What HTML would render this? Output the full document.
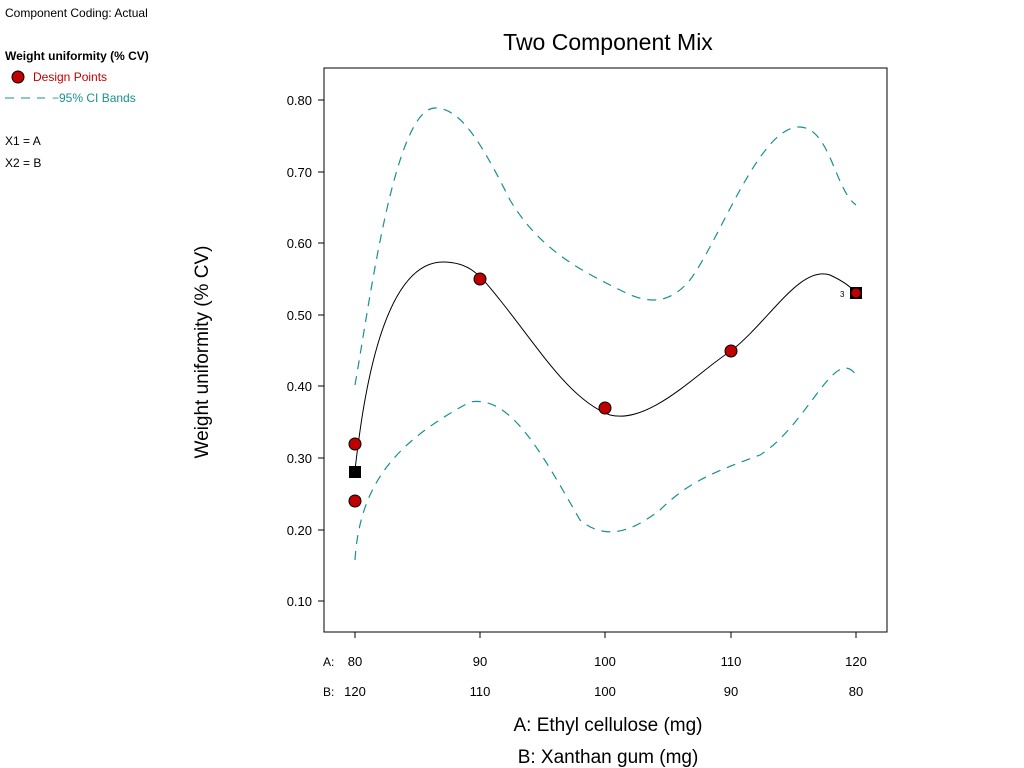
<!DOCTYPE html>
<html><head><style>body{margin:0;background:#fff}svg{display:block}text{font-family:"Liberation Sans","DejaVu Sans",sans-serif}</style></head><body>
<svg width="1024" height="768" viewBox="0 0 1024 768">
<text x="5" y="17" font-size="12">Component Coding: Actual</text>
<text x="5" y="60" font-size="12" font-weight="bold">Weight uniformity (% CV)</text>
<circle cx="18" cy="77" r="6" fill="#c00000" stroke="#000"/>
<text x="33" y="81" font-size="12" fill="#c00000">Design Points</text>
<line x1="5" y1="98" x2="45" y2="98" stroke="#1a9090" stroke-dasharray="9,7"/>
<text x="52" y="102" font-size="12" fill="#1a9090">−95% CI Bands</text>
<text x="5" y="145" font-size="12">X1 = A</text>
<text x="5" y="167" font-size="12">X2 = B</text>
<text x="608" y="50" font-size="23" text-anchor="middle">Two Component Mix</text>
<rect x="324" y="68" width="563" height="564" fill="none" stroke="#000"/>
<g stroke="#000">
<line x1="318" y1="100" x2="324" y2="100"/><line x1="318" y1="172" x2="324" y2="172"/><line x1="318" y1="243" x2="324" y2="243"/><line x1="318" y1="315" x2="324" y2="315"/><line x1="318" y1="386" x2="324" y2="386"/><line x1="318" y1="458" x2="324" y2="458"/><line x1="318" y1="530" x2="324" y2="530"/><line x1="318" y1="601" x2="324" y2="601"/>
<line x1="355" y1="632" x2="355" y2="638"/><line x1="480" y1="632" x2="480" y2="638"/><line x1="605" y1="632" x2="605" y2="638"/><line x1="731" y1="632" x2="731" y2="638"/><line x1="856" y1="632" x2="856" y2="638"/>
</g>
<g font-size="13" text-anchor="end">
<text x="312" y="105">0.80</text><text x="312" y="177">0.70</text><text x="312" y="248">0.60</text><text x="312" y="320">0.50</text><text x="312" y="391">0.40</text><text x="312" y="463">0.30</text><text x="312" y="535">0.20</text><text x="312" y="606">0.10</text>
</g>
<g font-size="13" text-anchor="middle">
<text x="355" y="666">80</text><text x="480" y="666">90</text><text x="605" y="666">100</text><text x="731" y="666">110</text><text x="856" y="666">120</text>
<text x="355" y="696">120</text><text x="480" y="696">110</text><text x="605" y="696">100</text><text x="731" y="696">90</text><text x="856" y="696">80</text>
</g>
<text x="323" y="666" font-size="12">A:</text><text x="323" y="696" font-size="12">B:</text>
<text x="608" y="731" font-size="19" text-anchor="middle">A: Ethyl cellulose (mg)</text>
<text x="608" y="763" font-size="19" text-anchor="middle">B: Xanthan gum (mg)</text>
<text transform="translate(208,352) rotate(-90)" font-size="19" text-anchor="middle">Weight uniformity (% CV)</text>
<path d="M355,470 C362,410 380,262 443,262 C470,262 480,275 500,300 C540,350 570,400 610,415 C650,425 700,370 731,351 C770,320 800,265 830,275 C845,282 852,288 856,293" fill="none" stroke="#000" stroke-width="1"/>
<path d="M355,385 C370,300 395,108 435,108 C460,108 480,140 510,200 C540,250 580,270 620,290 C640,300 665,310 690,280 C720,240 760,125 800,127 C830,128 835,190 856,205" fill="none" stroke="#1a9090" stroke-width="1.2" stroke-dasharray="9,7"/>
<path d="M355,560 C360,480 400,440 470,402 C510,395 540,450 580,520 C610,545 640,525 660,510 C690,480 720,470 760,455 C800,430 825,370 845,368 C852,368 856,375 856,375" fill="none" stroke="#1a9090" stroke-width="1.2" stroke-dasharray="9,7"/>
<g fill="#c00000" stroke="#000">
<circle cx="355" cy="444" r="6"/><circle cx="355" cy="501" r="6"/><circle cx="480" cy="279" r="6"/><circle cx="605" cy="408" r="6"/><circle cx="731" cy="351" r="6"/>
</g>
<rect x="349" y="466" width="12" height="12" fill="#000"/>
<rect x="850" y="287" width="12" height="12" fill="#000"/>
<circle cx="856" cy="293" r="5" fill="#c00000" stroke="#000"/>
<text x="840" y="297" font-size="8">3</text>
</svg>
</body></html>
